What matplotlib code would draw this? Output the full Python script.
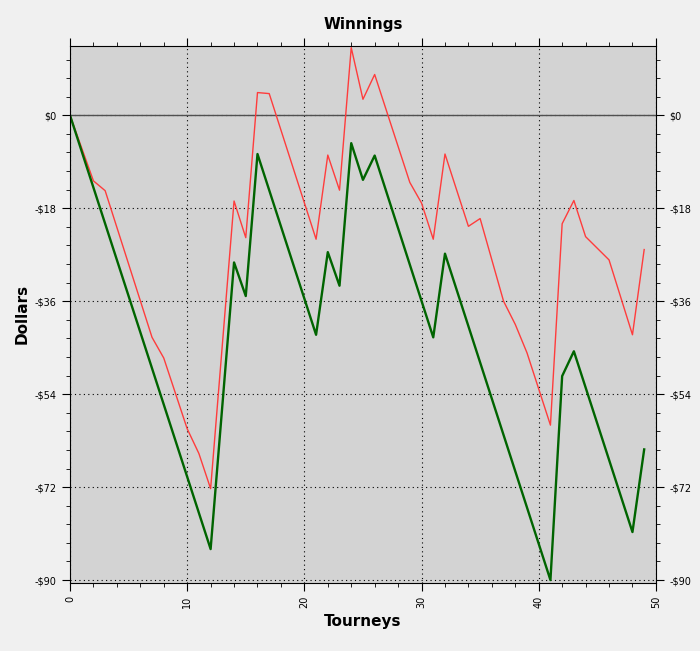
import matplotlib
matplotlib.use("Agg")
import matplotlib.pyplot as plt
from matplotlib.ticker import MultipleLocator, FuncFormatter

green_x = [0, 12, 14, 15, 16, 21, 22, 23, 24, 25, 26, 31, 32, 41, 42, 43, 48, 49]
green_y = [0, -84, -28.5, -35, -7.5, -42.5, -26.5, -33, -5.4, -12.5, -7.8, -43, -26.8, -90, -50.5, -45.7, -80.7, -64.7]
red_x = [0, 2, 3, 7, 8, 10, 11, 12, 14, 15, 16, 17, 21, 22, 23, 24, 25, 26, 29, 30, 31, 32, 34, 35, 37, 38, 39, 41, 42, 43, 44, 46, 48, 49]
red_y = [0, -12.7, -14.6, -43, -47, -60.7, -65.5, -72.3, -16.6, -23.7, 4.4, 4.2, -24, -7.7, -14.5, 13.1, 3.1, 7.9, -13, -17, -24, -7.5, -21.5, -20, -36, -40.5, -46, -60, -21, -16.5, -23.5, -28, -42.5, -26]

fig = plt.figure(figsize=(7, 6.51), dpi=100, facecolor="#f0f0f0")
ax = fig.add_axes([0.1, 0.105, 0.837, 0.825])
ax.set_facecolor("#d3d3d3")
ax.axhline(0, color="#505050", lw=1)
ax.plot(red_x, red_y, color="#ff3c3c", lw=1)
ax.plot(green_x, green_y, color="#006400", lw=1.7)
ax.set_xlim(0, 50)
ax.set_ylim(-90.5, 13.5)
ax.xaxis.set_major_locator(MultipleLocator(10))
ax.xaxis.set_minor_locator(MultipleLocator(2))
ax.yaxis.set_major_locator(MultipleLocator(18))
ax.yaxis.set_minor_locator(MultipleLocator(3.6))
fmt = FuncFormatter(lambda v, p: "$0" if abs(v) < 1e-9 else ("-$%d" % round(-v) if v < 0 else "$%d" % round(v)))
ax.yaxis.set_major_formatter(fmt)
ax.grid(True, which="major", color="black", linestyle=(0, (1, 3)), lw=0.8)
ax.tick_params(axis="y", which="both", left=True, right=True, labelleft=True, labelright=True, labelsize=7)
ax.tick_params(axis="x", which="both", top=True, labelsize=7, labelrotation=90)
ax.tick_params(which="major", length=6)
ax.tick_params(which="minor", length=3)
ax.set_title("Winnings", fontsize=11, fontweight="bold", pad=12)
ax.set_xlabel("Tourneys", fontsize=11, fontweight="bold")
ax.set_ylabel("Dollars", fontsize=11, fontweight="bold")
fig.savefig("out.png", facecolor=fig.get_facecolor())
